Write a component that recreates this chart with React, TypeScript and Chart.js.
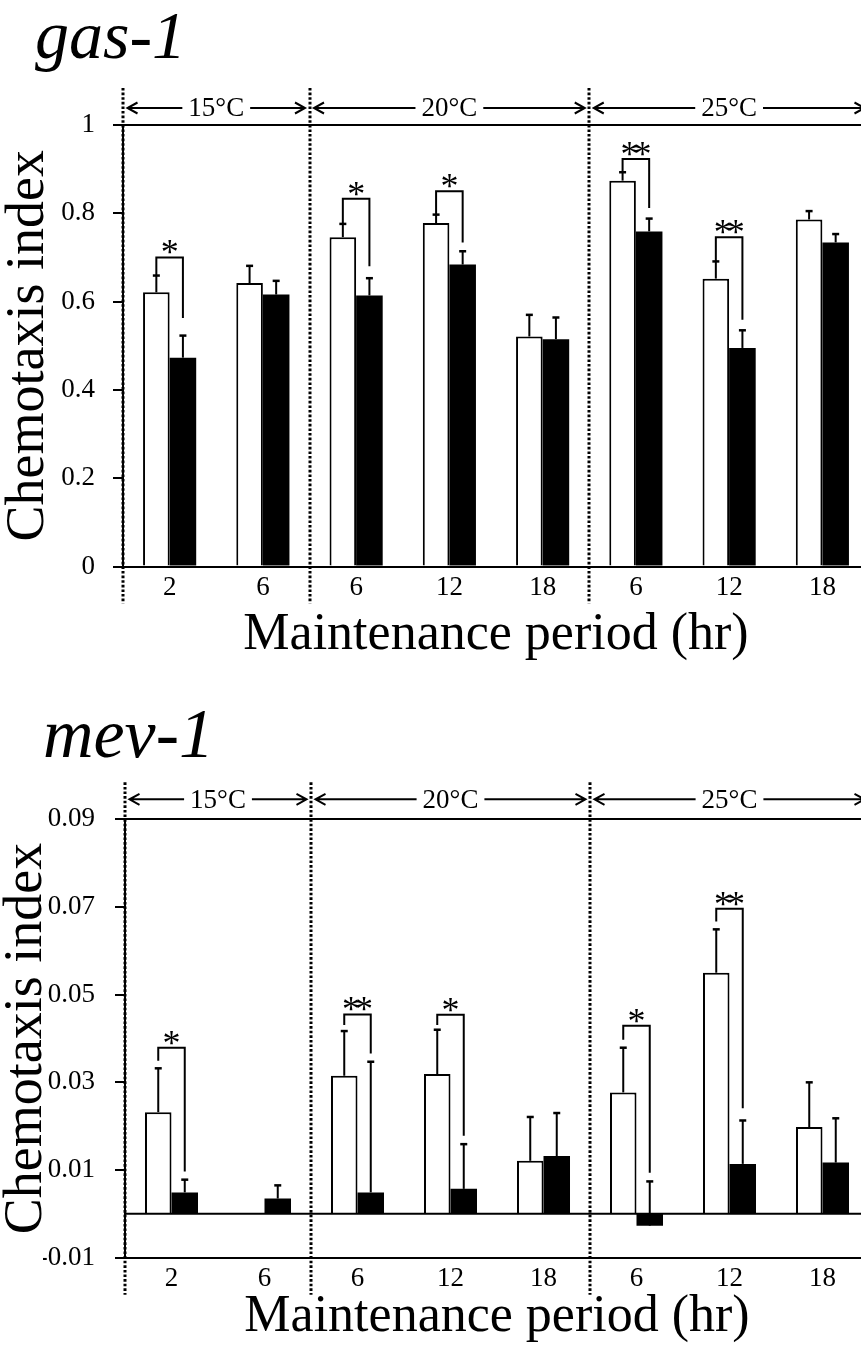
import React, { useEffect, useRef } from 'react';
import { Chart, registerables } from 'chart.js';

Chart.register(...registerables);

const FAMILY = "'Liberation Serif', 'Times New Roman', serif";

// ---------- shared categories ----------
const categories = ['2', '6', '6', '12', '18', '6', '12', '18'];
const tempLabels = ['15°C', '20°C', '25°C'];
const tempStart = [0, 2, 5];
const tempEnd = [2, 5, 8];

// ---------- gas-1 ----------
const gasControl = [0.621, 0.642, 0.746, 0.778, 0.521, 0.874, 0.652, 0.786];
const gasControlErr = [0.038, 0.039, 0.030, 0.019, 0.049, 0.019, 0.039, 0.019];
const gasMutant = [0.473, 0.616, 0.614, 0.684, 0.515, 0.759, 0.495, 0.734];
const gasMutantErr = [0.050, 0.031, 0.039, 0.030, 0.049, 0.029, 0.040, 0.019];
const gasSigIndex = [0, 2, 3, 5, 6];
const gasSigMark = ['*', '*', '*', '**', '**'];
const gasSigTop = [0.700, 0.833, 0.850, 0.923, 0.746];
const gasSigLeftEnd = [0.659, 0.776, 0.797, 0.893, 0.691];
const gasSigRightEnd = [0.563, 0.680, 0.734, 0.812, 0.559];
const gasTicks = [0, 0.2, 0.4, 0.6, 0.8, 1];
const gasTickLabels = ['0', '0.2', '0.4', '0.6', '0.8', '1'];

// ---------- mev-1 ----------
const mevControl = [0.0232, null, 0.0315, 0.0319, 0.0121, 0.0277, 0.055, 0.0198];
const mevControlErr = [0.0100, 0, 0.0102, 0.0101, 0.0100, 0.0102, 0.0099, 0.0102];
const mevMutant = [0.0049, 0.0035, 0.0049, 0.0057, 0.0132, -0.0027, 0.0114, 0.0117];
const mevMutantErr = [0.0029, 0.0030, 0.0298, 0.0102, 0.0098, 0.0101, 0.0099, 0.0101];
const mevSigIndex = [0, 2, 3, 5, 6];
const mevSigMark = ['*', '**', '*', '*', '**'];
const mevSigTop = [0.0379, 0.0455, 0.0454, 0.0429, 0.0696];
const mevSigLeftEnd = [0.0349, 0.0431, 0.0431, 0.0397, 0.0667];
const mevSigRightEnd = [0.00965, 0.0366, 0.0178, 0.0094, 0.0241];
const mevTicks = [-0.01, 0.01, 0.03, 0.05, 0.07, 0.09];
const mevTickLabels = ['-0.01', '0.01', '0.03', '0.05', '0.07', '0.09'];

type Spec = {
  name: string;
  control: (number | null)[];
  controlErr: number[];
  mutant: number[];
  mutantErr: number[];
  sigIndex: number[];
  sigMark: string[];
  sigTop: number[];
  sigLeftEnd: number[];
  sigRightEnd: number[];
  ticks: number[];
  tickLabels: string[];
  zeroLine: boolean;
  // layout
  height: number;
  padLeft: number;
  yWidth: number;
  yTickPad: number;
  yTitlePadTop: number;
  titleSize: number;
  titlePadTop: number;
  titlePadBottom: number;
  xHeight: number;
  xTickPad: number;
  xTitlePadBottom: number;
  arrowOffset: number;
  tempBaseOffset: number;
};

const gasSpec: Spec = {
  name: 'gas-1',
  control: gasControl,
  controlErr: gasControlErr,
  mutant: gasMutant,
  mutantErr: gasMutantErr,
  sigIndex: gasSigIndex,
  sigMark: gasSigMark,
  sigTop: gasSigTop,
  sigLeftEnd: gasSigLeftEnd,
  sigRightEnd: gasSigRightEnd,
  ticks: gasTicks,
  tickLabels: gasTickLabels,
  zeroLine: false,
  height: 680,
  padLeft: 35,
  yWidth: 88,
  yTickPad: 18,
  yTitlePadTop: -33,
  titleSize: 68,
  titlePadTop: 6,
  titlePadBottom: 51,
  xHeight: 113.5,
  xTickPad: 5,
  xTitlePadBottom: 18.5,
  arrowOffset: 17,
  tempBaseOffset: 9,
};

const mevSpec: Spec = {
  name: 'mev-1',
  control: mevControl,
  controlErr: mevControlErr,
  mutant: mevMutant,
  mutantErr: mevMutantErr,
  sigIndex: mevSigIndex,
  sigMark: mevSigMark,
  sigTop: mevSigTop,
  sigLeftEnd: mevSigLeftEnd,
  sigRightEnd: mevSigRightEnd,
  ticks: mevTicks,
  tickLabels: mevTickLabels,
  zeroLine: true,
  height: 669,
  padLeft: 43,
  yWidth: 82,
  yTickPad: 20,
  yTitlePadTop: -43,
  titleSize: 70,
  titlePadTop: 24,
  titlePadBottom: 45.3,
  xHeight: 91.3,
  xTickPad: 5,
  xTitlePadBottom: 5.5,
  arrowOffset: 20,
  tempBaseOffset: 11,
};

function makeOverlay(spec: Spec) {
  return {
    id: 'overlay',
    afterDatasetsDraw(chart: any) {
      const ctx: CanvasRenderingContext2D = chart.ctx;
      const ys = chart.scales.y;
      const area = chart.chartArea;
      ctx.save();
      ctx.strokeStyle = '#000';
      ctx.fillStyle = '#000';
      ctx.lineWidth = 2;
      const seg = (x1: number, y1: number, x2: number, y2: number) => {
        ctx.beginPath();
        ctx.moveTo(x1, y1);
        ctx.lineTo(x2, y2);
        ctx.stroke();
      };
      if (spec.zeroLine) {
        const zy = ys.getPixelForValue(0);
        seg(area.left, zy, area.right, zy);
      }
      const sets: [(number | null)[], number[]][] = [
        [spec.control, spec.controlErr],
        [spec.mutant, spec.mutantErr],
      ];
      sets.forEach(([vals, errs], d) => {
        const meta = chart.getDatasetMeta(d);
        vals.forEach((v, j) => {
          if (v == null || !errs[j]) return;
          const el = meta.data[j];
          const y0 = ys.getPixelForValue(v);
          const y1 = ys.getPixelForValue(v + errs[j]);
          seg(el.x, y0, el.x, y1);
          ctx.lineWidth = 2.5;
          seg(el.x - 3.5, y1, el.x + 3.5, y1);
          ctx.lineWidth = 2;
        });
      });
      const m0 = chart.getDatasetMeta(0);
      const m1 = chart.getDatasetMeta(1);
      ctx.font = `36px ${FAMILY}`;
      ctx.textAlign = 'center';
      ctx.textBaseline = 'alphabetic';
      try {
        (ctx as any).letterSpacing = '-5px';
      } catch (e) {
        /* ignore */
      }
      spec.sigIndex.forEach((idx, k) => {
        const xl = m0.data[idx].x;
        const xr = m1.data[idx].x;
        const yt = ys.getPixelForValue(spec.sigTop[k]);
        const yl = ys.getPixelForValue(spec.sigLeftEnd[k]);
        const yr = ys.getPixelForValue(spec.sigRightEnd[k]);
        ctx.beginPath();
        ctx.moveTo(xl, yl);
        ctx.lineTo(xl, yt);
        ctx.lineTo(xr, yt);
        ctx.lineTo(xr, yr);
        ctx.stroke();
        ctx.fillText(spec.sigMark[k], (xl + xr) / 2 - 2.5, yt + 7);
      });
      ctx.restore();
    },
    afterDraw(chart: any) {
      const ctx: CanvasRenderingContext2D = chart.ctx;
      const xs = chart.scales.x;
      const area = chart.chartArea;
      ctx.save();
      ctx.strokeStyle = '#000';
      ctx.fillStyle = '#000';
      // dotted dividers
      ctx.lineWidth = 3;
      ctx.setLineDash([2.6, 2]);
      tempStart.forEach((s) => {
        const bx = Math.round(xs.getPixelForValue(s - 0.5));
        ctx.beginPath();
        ctx.moveTo(bx, area.top - 37);
        ctx.lineTo(bx, area.bottom + 37);
        ctx.stroke();
      });
      ctx.setLineDash([]);
      // temperature ranges
      ctx.lineWidth = 2;
      ctx.font = `27px ${FAMILY}`;
      ctx.textAlign = 'center';
      ctx.textBaseline = 'alphabetic';
      const ay = area.top - spec.arrowOffset;
      tempLabels.forEach((lab, k) => {
        const a = xs.getPixelForValue(tempStart[k] - 0.5) + 4.5;
        const b = xs.getPixelForValue(tempEnd[k] - 0.5) - 4.5;
        const c = (a + b) / 2;
        const w = ctx.measureText(lab).width;
        ctx.fillText(lab, c, area.top - spec.tempBaseOffset);
        ctx.beginPath();
        ctx.moveTo(a, ay);
        ctx.lineTo(c - w / 2 - 6, ay);
        ctx.moveTo(c + w / 2 + 6, ay);
        ctx.lineTo(b, ay);
        ctx.moveTo(a + 10, ay - 5.5);
        ctx.lineTo(a, ay);
        ctx.lineTo(a + 10, ay + 5.5);
        ctx.moveTo(b - 10, ay - 5.5);
        ctx.lineTo(b, ay);
        ctx.lineTo(b - 10, ay + 5.5);
        ctx.stroke();
      });
      ctx.restore();
    },
  };
}

function buildConfig(spec: Spec): any {
  const yMin = spec.ticks[0];
  const yMax = spec.ticks[spec.ticks.length - 1];
  return {
    type: 'bar',
    data: {
      labels: categories,
      datasets: [
        {
          label: 'control',
          data: spec.control,
          backgroundColor: '#fff',
          borderColor: '#000',
          borderWidth: 2,
          categoryPercentage: 0.57,
          barPercentage: 1,
        },
        {
          label: 'mutant',
          data: spec.mutant,
          backgroundColor: '#000',
          borderColor: '#000',
          borderWidth: 0,
          categoryPercentage: 0.57,
          barPercentage: 1,
        },
      ],
    },
    options: {
      responsive: false,
      animation: false,
      events: [],
      devicePixelRatio: 1,
      layout: { padding: { left: spec.padLeft, right: 11, top: 0, bottom: 0 } },
      plugins: {
        legend: { display: false },
        tooltip: { enabled: false },
        title: {
          display: true,
          text: spec.name,
          align: 'start',
          color: '#000',
          font: { family: FAMILY, size: spec.titleSize, style: 'italic', weight: 'normal', lineHeight: 1 },
          padding: { top: spec.titlePadTop, bottom: spec.titlePadBottom },
        },
      },
      scales: {
        x: {
          type: 'category',
          offset: true,
          z: 1,
          grid: { display: false, drawTicks: false },
          border: { display: true, color: '#000', width: 2 },
          ticks: {
            color: '#000',
            font: { family: FAMILY, size: 27 },
            padding: spec.xTickPad,
            maxRotation: 0,
            autoSkip: false,
          },
          title: {
            display: true,
            text: 'Maintenance period (hr)',
            color: '#000',
            font: { family: FAMILY, size: 52, lineHeight: 1 },
            padding: { top: 0, bottom: spec.xTitlePadBottom },
          },
          afterFit: (s: any) => {
            s.height = spec.xHeight;
          },
        },
        y: {
          type: 'linear',
          min: yMin,
          max: yMax,
          z: 1,
          afterBuildTicks: (s: any) => {
            s.ticks = spec.ticks.map((v) => ({ value: v }));
          },
          ticks: {
            color: '#000',
            font: { family: FAMILY, size: 27 },
            padding: spec.yTickPad,
            callback: (_v: any, i: number) => spec.tickLabels[i],
          },
          grid: {
            color: (c: any) => (c.tick && c.tick.value === yMax ? '#000' : 'rgba(0,0,0,0)'),
            tickColor: '#000',
            lineWidth: 2,
            tickLength: 10,
            drawTicks: true,
            drawOnChartArea: true,
          },
          border: { display: true, color: '#000', width: 2 },
          title: {
            display: true,
            text: 'Chemotaxis index',
            color: '#000',
            font: { family: FAMILY, size: 54, lineHeight: 1 },
            padding: { top: spec.yTitlePadTop, bottom: 0 },
          },
          afterFit: (s: any) => {
            s.width = spec.yWidth;
          },
        },
      },
    },
    plugins: [makeOverlay(spec)],
  };
}

function ChartPanel({ spec, top }: { spec: Spec; top: number }) {
  const ref = useRef<HTMLCanvasElement>(null);
  useEffect(() => {
    if (!ref.current) return;
    const chart = new Chart(ref.current, buildConfig(spec));
    return () => chart.destroy();
  }, [spec]);
  return (
    <canvas
      ref={ref}
      width={880}
      height={spec.height}
      style={{ position: 'absolute', left: 0, top, width: 880, height: spec.height, display: 'block' }}
    />
  );
}

export default function App() {
  return (
    <div
      style={{
        position: 'fixed',
        left: 0,
        top: 0,
        width: 861,
        height: 1349,
        overflow: 'hidden',
        background: '#fff',
      }}
    >
      <ChartPanel spec={gasSpec} top={0} />
      <ChartPanel spec={mevSpec} top={680} />
    </div>
  );
}
